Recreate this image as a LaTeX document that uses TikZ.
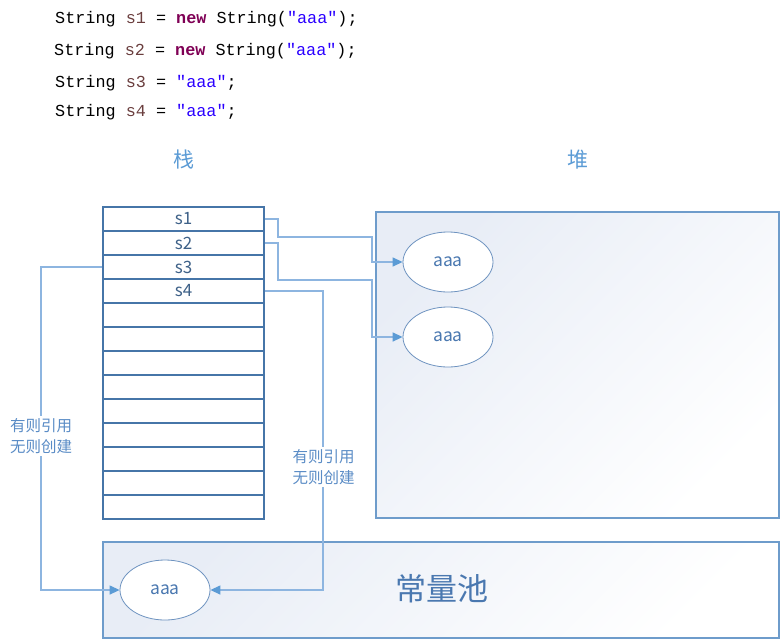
\documentclass[tikz,border=0pt]{standalone}
\usepackage{fontspec}
\setmainfont{Noto Sans CJK SC}
\newfontfamily\codefont{Liberation Mono}
\usetikzlibrary{shapes.geometric,arrows.meta}
\definecolor{stk}{HTML}{4675A8}
\definecolor{boxline}{HTML}{6E9CCB}
\definecolor{grad}{HTML}{E8EDF6}
\definecolor{conn}{HTML}{8DB5E0}
\definecolor{tip}{HTML}{5B9BD5}
\definecolor{lbl}{HTML}{5A8CC6}
\definecolor{ttl}{HTML}{5B9BD5}
\definecolor{txt}{HTML}{4A78B0}
\definecolor{stxt}{HTML}{3E6188}
\definecolor{var}{HTML}{6A3E3E}
\definecolor{kw}{HTML}{7F0055}
\definecolor{str}{HTML}{2A00FF}
\begin{document}
\begin{tikzpicture}[x=1pt,y=-1pt,
  code/.style={font=\codefont\fontsize{16.8}{18}\selectfont, anchor=base west, inner sep=0},
  row/.style={draw=stk, line width=1.5pt, fill=white, minimum width=161pt, minimum height=24pt, inner sep=0, text=stxt, font=\fontsize{17}{18}\selectfont},
  area/.style={draw=boxline, line width=1.2pt, left color=grad, middle color=grad!15, right color=white, shading angle=45, inner sep=0},
  ell/.style={ellipse, draw=txt!80, line width=0.8pt, fill=white, minimum width=90pt, minimum height=60pt, inner sep=0, text=txt, font=\fontsize{17.5}{18}\selectfont},
  link/.style={draw=conn, line width=1.3pt, -{Triangle[length=10pt,width=9pt,fill=tip,color=tip]}},
  note/.style={fill=white, text=lbl, align=center, inner sep=2pt, font=\fontsize{15.5}{21.5}\selectfont},
  title/.style={text=ttl, font=\fontsize{21}{22}\selectfont}]
\useasboundingbox (0,0) rectangle (781,640);
% code
\node[code] (c1) at (55,23) {String {\color{var}s1} = {\bfseries\color{kw}new} String({\color{str}"aaa"});};
\node[code] (c2) at (54,55) {String {\color{var}s2} = {\bfseries\color{kw}new} String({\color{str}"aaa"});};
\node[code] (c3) at (55,87) {String {\color{var}s3} = {\color{str}"aaa"};};
\node[code] (c4) at (55,116) {String {\color{var}s4} = {\color{str}"aaa"};};
% titles
\node[title] (t1) at (184,160) {栈};
\node[title] (t2) at (578,160) {堆};
% areas
\node[area, minimum width=403pt, minimum height=306pt] (heap) at (577.5,365) {};
\node[area, minimum width=676pt, minimum height=96pt] (pool) at (441,590) {};
\node[text=txt, font=\fontsize{31}{32}\selectfont] (pt) at (442,589) {常量池};
% stack
\node[row] (r1) at (183.5,219) {s1};
\node[row] (r2) at (183.5,243) {s2};
\node[row] (r3) at (183.5,267) {s3};
\node[row] (r4) at (183.5,291) {s4};
\foreach \i in {5,...,13}{
  \node[row] (r\i) at (183.5,{207+(\i-0.5)*24}) {};
}
% ellipses
\node[ell] (h1) at (448,262) {aaa};
\node[ell] (h2) at (448,337) {aaa};
\node[ell] (p) at (165,590) {aaa};
% connectors
\draw[link] (r1.east) -| (278,237) -| (372,262) -- (h1.west);
\draw[link] (r2.east) -| (278,280) -| (372,337) -- (h2.west);
\draw[link] (r4.east) -| (323,590) -- (p.east);
\draw[link] (r3.west) -| (41,590) -- (p.west);
% labels
\node[note] (n1) at (41,436) {有则引用\\无则创建};
\node[note] (n2) at (323.5,467) {有则引用\\无则创建};
\end{tikzpicture}
\end{document}
